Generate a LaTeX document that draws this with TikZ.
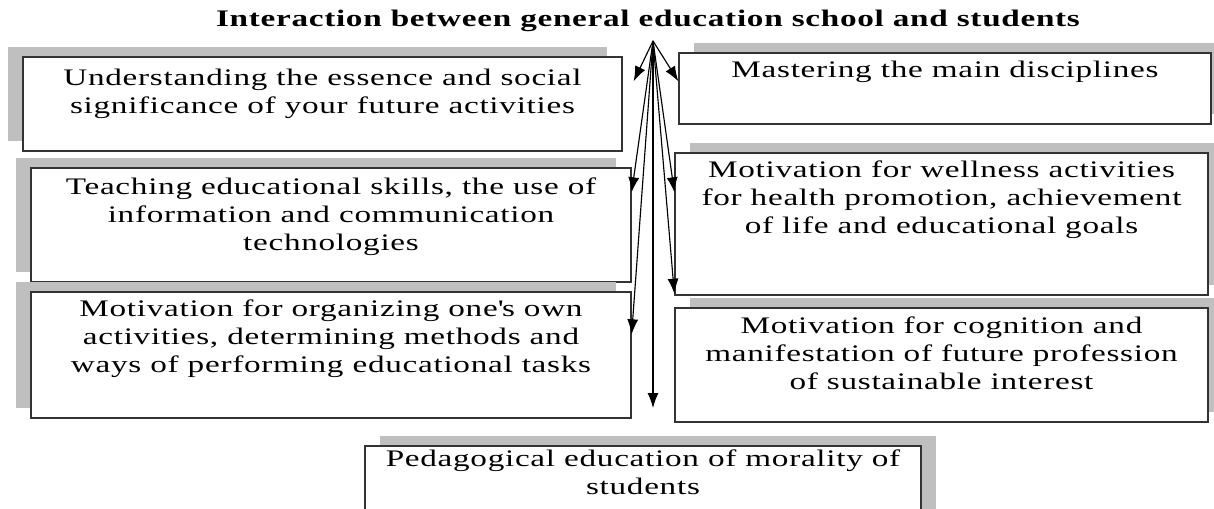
\documentclass[tikz,border=0pt]{standalone}
\usepackage{fontspec}
\setmainfont{Liberation Serif}[FakeStretch=1.4,LetterSpace=3]
\usetikzlibrary{positioning,shadows,arrows.meta}
\tikzset{
  box/.style={draw=black!80, line width=0.8pt, fill=white, inner sep=0pt},
  lshadow/.style={drop shadow={shadow xshift=-0.3cm, shadow yshift=0.2cm, fill=black!25, opacity=1}},
  rshadow/.style={drop shadow={shadow xshift=0.3cm, shadow yshift=0.2cm, fill=black!25, opacity=1}},
  txt/.style={inner sep=0pt, align=center, font=\fontsize{13.5}{15.9}\selectfont},
  arr/.style={line width=0.65pt, -{Latex[length=0.3cm,width=0.22cm]}}
}
\begin{document}
\begin{tikzpicture}[x=0.02cm, y=-0.02cm]
        \useasboundingbox (0,0) rectangle (1214,509);

        \node[txt, font=\fontsize{13.5}{15.9}\selectfont\bfseries, anchor=base] (title) at (648,27)
            {Interaction between general education school and students};

        \node[box, lshadow, minimum width=11.98cm, minimum height=1.88cm] (b1) at (322.5,104) {};
        \node[box, lshadow, minimum width=12cm, minimum height=2.28cm] (b2) at (331,225) {};
        \node[box, lshadow, minimum width=12cm, minimum height=2.52cm] (b3) at (331,355) {};
        \node[box, rshadow, minimum width=10.64cm, minimum height=1.42cm] (r1) at (945,88.5) {};
        \node[box, rshadow, minimum width=10.66cm, minimum height=2.84cm] (r2) at (941.5,224) {};
        \node[box, rshadow, minimum width=10.66cm, minimum height=2.28cm] (r3) at (941.5,365) {};
        \node[box, rshadow, minimum width=11.12cm, minimum height=1.48cm] (moral) at (643,483) {};

        \node[txt, below=0.24cm of b1.north] (t1)
            {Understanding the essence and social\\significance of your future activities};
        \node[txt, below=0.2cm of b2.north] (t2)
            {Teaching educational skills, the use of\\information and communication\\technologies};
        \node[txt, below=0.16cm of b3.north] (t3)
            {Motivation for organizing one\textquotesingle s own\\activities, determining methods and\\ways of performing educational tasks};
        \node[txt, below=0.16cm of r1.north] (s1)
            {Mastering the main disciplines};
        \node[txt, below=0.16cm of r2.north] (s2)
            {Motivation for wellness activities\\for health promotion, achievement\\of life and educational goals};
        \node[txt, below=0.18cm of r3.north] (s3)
            {Motivation for cognition and\\manifestation of future profession\\of sustainable interest};
        \node[txt, below=0.08cm of moral.north] (t7)
            {Pedagogical education of morality of\\students};

        \coordinate (apex) at (653,41);
        \coordinate (down) at (653,408);

        \draw[arr] (apex) -- ([shift={(0.22cm,-0.5cm)}]b1.north east);
        \draw[arr] (apex) -- ([yshift=-0.58cm]r1.north west);
        \draw[arr] (apex) -- ([yshift=-0.5cm]b2.north east);
        \draw[arr] (apex) -- ([yshift=-0.8cm]r2.north west);
        \draw[arr] (apex) -- ([yshift=-0.86cm]b3.north east);
        \draw[arr] (apex) -- ([yshift=0.04cm]r2.south west);
        \draw[arr] (apex) -- (down);
    \end{tikzpicture}
\end{document}
